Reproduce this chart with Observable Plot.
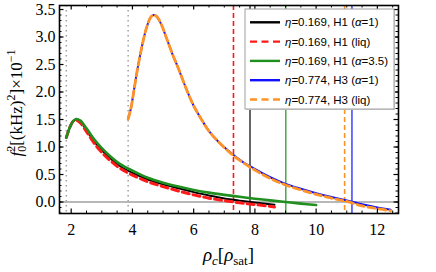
<!DOCTYPE html>
<html><head><meta charset="utf-8">
<script src="https://cdn.jsdelivr.net/npm/d3@7"></script>
<script src="https://cdn.jsdelivr.net/npm/@observablehq/plot@0.6"></script>
<style>body{margin:0;background:#fff}</style>
</head><body><div id="chart"></div>
<script>
// ---- data ----
const seriesKeys = ["blackH1", "redH1liq", "greenH1a35", "blueH3", "orangeH3liq"];
const seriesColors = ["#000000", "#ff1a1a", "#1f8f1f", "#1010ff", "#ff9326"];
const seriesLegend = [
  ["η", "=0.169, H1 (", "α", "=1)"],
  ["η", "=0.169, H1 (liq)"],
  ["η", "=0.169, H1 (", "α", "=3.5)"],
  ["η", "=0.774, H3 (", "α", "=1)"],
  ["η", "=0.774, H3 (liq)"]
];
const xH1 = [1.84, 1.95, 2.05, 2.16, 2.3, 2.5, 2.75, 3.0, 3.3, 3.6, 4.0, 4.5, 5.0, 5.5, 6.0, 6.5, 7.0, 7.5, 8.0, 8.64];
const yBlack = [1.17, 1.35, 1.46, 1.50, 1.46, 1.31, 1.10, 0.94, 0.78, 0.65, 0.53, 0.41, 0.32, 0.25, 0.18, 0.12, 0.065, 0.025, -0.01, -0.05];
const yRed   = [1.17, 1.35, 1.46, 1.49, 1.44, 1.28, 1.07, 0.90, 0.74, 0.61, 0.49, 0.37, 0.28, 0.20, 0.13, 0.07, 0.025, -0.015, -0.045, -0.09];
const xGreen = [1.84, 1.95, 2.05, 2.16, 2.3, 2.5, 2.75, 3.0, 3.3, 3.6, 4.0, 4.5, 5.0, 5.5, 6.0, 6.5, 7.0, 7.5, 8.0, 8.5, 9.0, 9.5, 10.0];
const yGreen = [1.17, 1.35, 1.46, 1.51, 1.48, 1.34, 1.14, 0.98, 0.82, 0.69, 0.57, 0.44, 0.35, 0.28, 0.22, 0.17, 0.13, 0.095, 0.06, 0.03, 0.0, -0.03, -0.055];
const xH3 = [3.86, 3.95, 4.05, 4.15, 4.3, 4.45, 4.6, 4.7, 4.8, 4.95, 5.1, 5.3, 5.5, 5.8, 6.0, 6.3, 6.5, 6.8, 7.2, 7.6, 8.0, 8.5, 9.0, 9.5, 10.0, 10.5, 11.0, 11.5, 12.0, 12.43];
const yBlue   = [1.51, 1.70, 2.03, 2.37, 2.80, 3.15, 3.36, 3.40, 3.37, 3.22, 3.00, 2.70, 2.43, 2.00, 1.75, 1.46, 1.29, 1.10, 0.90, 0.73, 0.60, 0.45, 0.33, 0.24, 0.16, 0.09, 0.03, -0.04, -0.10, -0.14];
const yOrange = [1.51, 1.70, 2.03, 2.37, 2.80, 3.15, 3.36, 3.40, 3.37, 3.22, 3.00, 2.70, 2.43, 2.00, 1.75, 1.46, 1.29, 1.10, 0.89, 0.72, 0.58, 0.43, 0.31, 0.22, 0.14, 0.07, 0.01, -0.07, -0.12, -0.16];
const zeroCrossings = [7.84, 7.30, 9.01, 11.17, 10.93];   // vertical marker lines, same order as series
const startPoints = [1.84, 3.86];                         // dotted grey markers
const xMajor = [2, 4, 6, 8, 10, 12];
const xMinor = d3.range(2, 12.6, 0.5);
const yMajor = [0, 0.5, 1.0, 1.5, 2.0, 2.5, 3.0, 3.5];
const yMinor = d3.range(-0.2, 3.56, 0.1);

// ---- layout ----
const W = 436, H = 272, mL = 59, mR = 38, mT = 5, mB = 59;
const iW = W - mL - mR, iH = H - mT - mB;
const dashLine = ["", "7,4", "", "", "7,4"];
const dashRule = ["", "5,3", "", "", "5,3"];
const lineW = [2, 3, 2.6, 2, 2.8];

const curves = [
  xH1.map((x, i) => ({x, y: yBlack[i]})),
  xH1.map((x, i) => ({x, y: yRed[i]})),
  xGreen.map((x, i) => ({x, y: yGreen[i]})),
  xH3.map((x, i) => ({x, y: yBlue[i]})),
  xH3.map((x, i) => ({x, y: yOrange[i]}))
];

const serif = "Liberation Serif, Times New Roman, serif";
const sans = "Liberation Sans, Arial, sans-serif";

function labels() {
  const g = d3.create("svg:g").attr("text-anchor", "start");
  // y label
  const ty = g.append("text").attr("transform", `translate(22,103) rotate(-90)`)
    .attr("text-anchor", "middle").attr("font-family", serif).attr("font-size", 17).attr("fill", "#000");
  ty.append("tspan").attr("font-style", "italic").text("f");
  ty.append("tspan").attr("font-size", 12).attr("dy", 4).text("0");
  ty.append("tspan").attr("font-size", 12).attr("dx", -6).attr("dy", -11).text("2");
  ty.append("tspan").attr("dy", 7).text("[(kHz)");
  ty.append("tspan").attr("font-size", 12).attr("dy", -7).text("2");
  ty.append("tspan").attr("dy", 7).text("]×10");
  ty.append("tspan").attr("font-size", 12).attr("dy", -7).text("−1");
  // x label
  const tx = g.append("text").attr("x", mL + iW / 2).attr("y", 261)
    .attr("text-anchor", "middle").attr("font-family", serif).attr("font-size", 19).attr("fill", "#000");
  tx.append("tspan").attr("font-style", "italic").text("ρ");
  tx.append("tspan").attr("font-style", "italic").attr("font-size", 13).attr("dy", 4).text("c");
  tx.append("tspan").attr("dy", -4).text("[");
  tx.append("tspan").attr("font-style", "italic").text("ρ");
  tx.append("tspan").attr("font-size", 13).attr("dy", 4).text("sat");
  tx.append("tspan").attr("dy", -4).text("]");
  // legend
  const lx = 245, ly = 9, lw = 149, lh = 100, row = 19.3;
  const lg = g.append("g");
  lg.append("rect").attr("x", lx + 1).attr("y", ly + 1).attr("width", lw).attr("height", lh).attr("fill", "#cfcfcf");
  lg.append("rect").attr("x", lx).attr("y", ly).attr("width", lw).attr("height", lh)
    .attr("fill", "#ffffff").attr("stroke", "#a0a0a0").attr("stroke-width", 1);
  seriesLegend.forEach((parts, i) => {
    const cy = ly + 13.3 + i * row;
    lg.append("line").attr("x1", lx + 5).attr("x2", lx + 35).attr("y1", cy).attr("y2", cy)
      .attr("stroke", seriesColors[i]).attr("stroke-width", 2.4)
      .attr("stroke-dasharray", dashLine[i] ? "7,4.5" : null);
    const t = lg.append("text").attr("x", lx + 40).attr("y", cy + 4).attr("font-family", sans)
      .attr("text-anchor", "start").attr("font-size", 11.5).attr("fill", "#000");
    parts.forEach(p => {
      const s = t.append("tspan").text(p);
      if (p === "η" || p === "α") s.attr("font-style", "italic");
    });
  });
  return g.node();
}

const marks = [
  Plot.ruleY([0], {stroke: "#a0a0a0", strokeWidth: 1.5}),
  Plot.ruleX(startPoints, {stroke: "#a0a0a0", strokeWidth: 1.5, strokeDasharray: "1.5,3.5"})
];
seriesKeys.forEach((k, i) => {
  marks.push(Plot.ruleX([zeroCrossings[i]], {stroke: seriesColors[i], strokeWidth: dashRule[i] ? 1.6 : 1.2, strokeDasharray: dashRule[i] || null}));
});
seriesKeys.forEach((k, i) => {
  marks.push(Plot.line(curves[i], {x: "x", y: "y", stroke: seriesColors[i], strokeWidth: lineW[i],
    strokeDasharray: dashLine[i] || null, curve: "catmull-rom"}));
});
// inward ticks on all four sides
marks.push(
  Plot.tickX(xMajor, {x: d => d, insetTop: iH - 4.5, strokeWidth: 1.2}),
  Plot.tickX(xMajor, {x: d => d, insetBottom: iH - 4.5, strokeWidth: 1.2}),
  Plot.tickX(xMinor.filter(v => !xMajor.includes(v)), {x: d => d, insetTop: iH - 2.5, strokeWidth: 1}),
  Plot.tickX(xMinor.filter(v => !xMajor.includes(v)), {x: d => d, insetBottom: iH - 2.5, strokeWidth: 1}),
  Plot.tickY(yMajor, {y: d => d, insetRight: iW - 4.5, strokeWidth: 1.2}),
  Plot.tickY(yMajor, {y: d => d, insetLeft: iW - 4.5, strokeWidth: 1.2}),
  Plot.tickY(yMinor, {y: d => d, insetRight: iW - 2.5, strokeWidth: 1}),
  Plot.tickY(yMinor, {y: d => d, insetLeft: iW - 2.5, strokeWidth: 1}),
  Plot.frame({stroke: "#000", strokeWidth: 1.6}),
  Plot.axisX(xMajor, {tickSize: 0, tickPadding: 10, fontSize: 16, label: null}),
  Plot.axisY(yMajor, {tickSize: 0, tickPadding: 4, fontSize: 16, label: null, tickFormat: d3.format(".1f")}),
  labels
);

const chart = Plot.plot({
  width: W, height: H,
  marginLeft: mL, marginRight: mR, marginTop: mT, marginBottom: mB,
  style: {fontFamily: serif, fontSize: "16px", background: "#fff", color: "#000"},
  x: {domain: [1.618, 12.69]},
  y: {domain: [-0.209, 3.573]},
  marks
});
document.getElementById("chart").appendChild(chart);
</script>
</body></html>
